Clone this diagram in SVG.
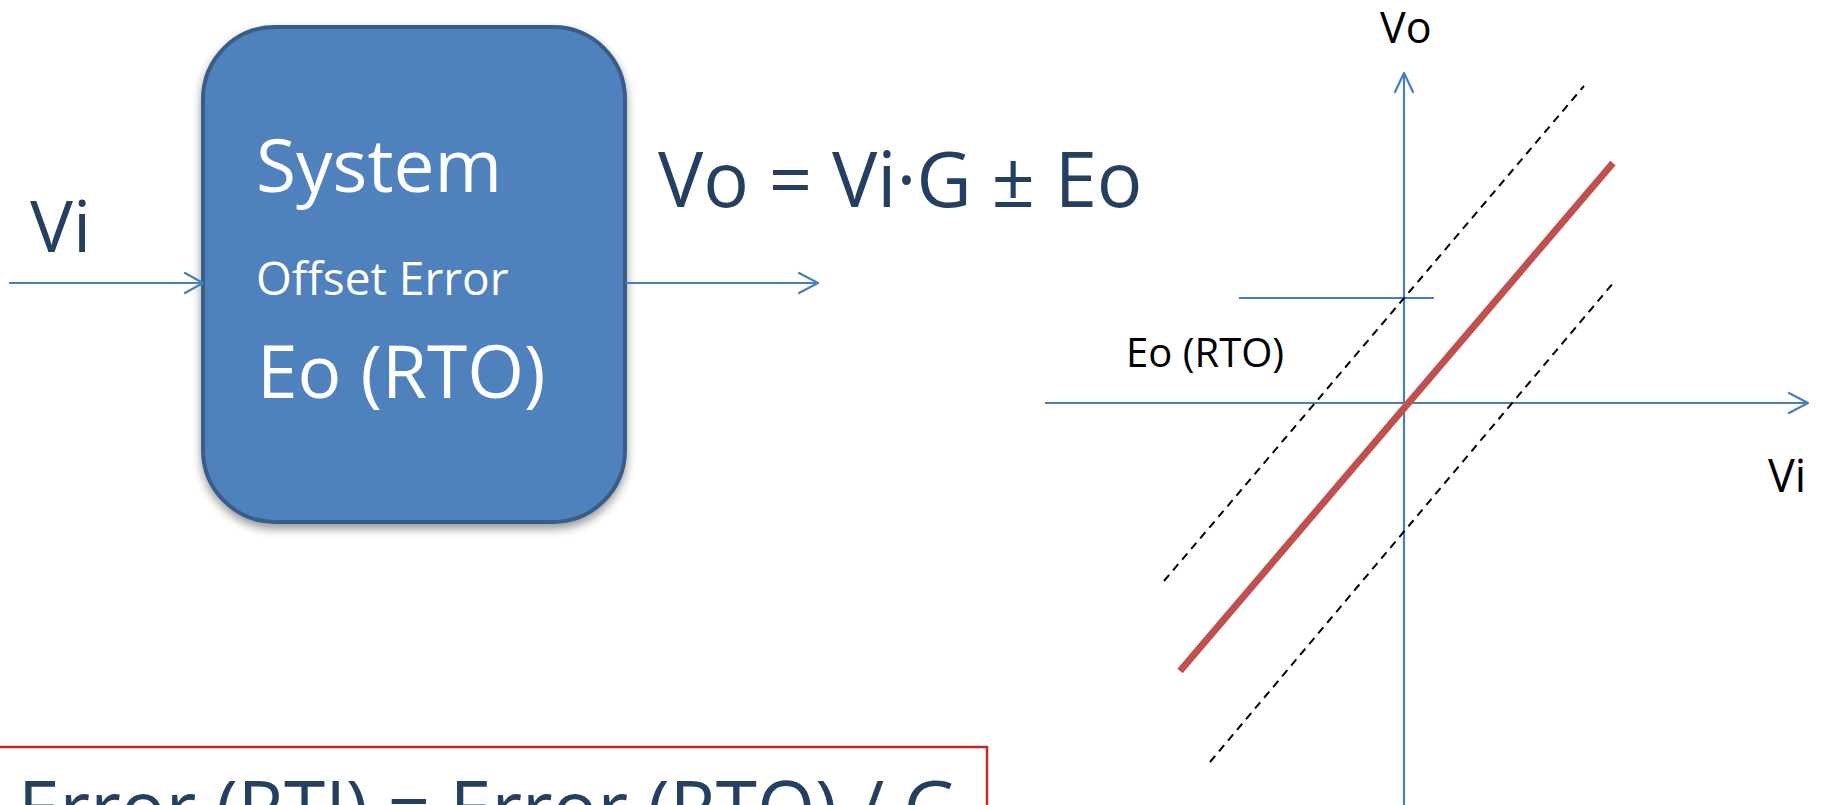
<svg xmlns="http://www.w3.org/2000/svg" width="1821" height="805" viewBox="0 0 1821 805">
<defs>
<style>
text{font-family:"Open Sans","Noto Sans","DejaVu Sans",sans-serif}
.navy{fill:#243f60}
.white{fill:#ffffff}
.blk{fill:#000000}
.ax{stroke:#4a7ebb;stroke-width:2.2;fill:none}
.chev{stroke:#4a7ebb;stroke-width:2.2;fill:none;stroke-linecap:round;stroke-linejoin:round}
.dash{stroke:#000;stroke-width:2;stroke-dasharray:8 6;fill:none}
</style>
<filter id="sh" x="-10%" y="-10%" width="120%" height="125%">
<feDropShadow dx="0" dy="5" stdDeviation="5" flood-color="#000" flood-opacity="0.4"/>
</filter>
</defs>

<g id="system-box">
<rect x="203" y="27" width="422" height="495" rx="72" ry="72" fill="#4f81bd" stroke="#385d8a" stroke-width="4" filter="url(#sh)"/>
<text x="256" y="192" font-size="73" class="white">System</text>
<text x="256" y="295" font-size="46" class="white">Offset Error</text>
<text x="257" y="398" font-size="73" class="white">Eo (RTO)</text>
</g>

<g id="input-label">
<text x="30" y="252" font-size="72" class="navy">Vi</text>
</g>

<g id="formula">
<text x="658" y="207" font-size="76" class="navy">Vo = Vi·G ± Eo</text>
</g>

<g id="connectors">
<line x1="9" y1="283" x2="202" y2="283" class="ax"/>
<polyline points="185,273 203,283 185,293" class="chev"/>
<line x1="625" y1="283" x2="817" y2="283" class="ax"/>
<polyline points="799,273 818,283 799,293" class="chev"/>
</g>

<g id="rti-box">
<rect x="-10" y="747" width="997" height="120" fill="none" stroke="#c0282d" stroke-width="2.5"/>
<text x="18" y="836" font-size="76" class="navy" textLength="940" lengthAdjust="spacingAndGlyphs">Error (RTI) = Error (RTO) / G</text>
</g>

<g id="graph">
<line x1="1404" y1="74" x2="1404" y2="805" class="ax"/>
<polyline points="1395,92 1404,73 1413,92" class="chev"/>
<line x1="1045" y1="403" x2="1807" y2="403" class="ax"/>
<polyline points="1789,393 1808,403 1789,413" class="chev"/>
<line x1="1239" y1="298" x2="1434" y2="298" class="ax"/>
<line x1="1164" y1="581" x2="1584" y2="86" class="dash"/>
<line x1="1210" y1="762" x2="1614" y2="282" class="dash"/>
<line x1="1180" y1="671" x2="1613" y2="163" stroke="#c0504d" stroke-width="7"/>
<text x="1380" y="43" font-size="43" class="blk">Vo</text>
<text x="1768" y="492" font-size="45" class="blk">Vi</text>
<text x="1126" y="367" font-size="40" class="blk">Eo (RTO)</text>
</g>
</svg>
